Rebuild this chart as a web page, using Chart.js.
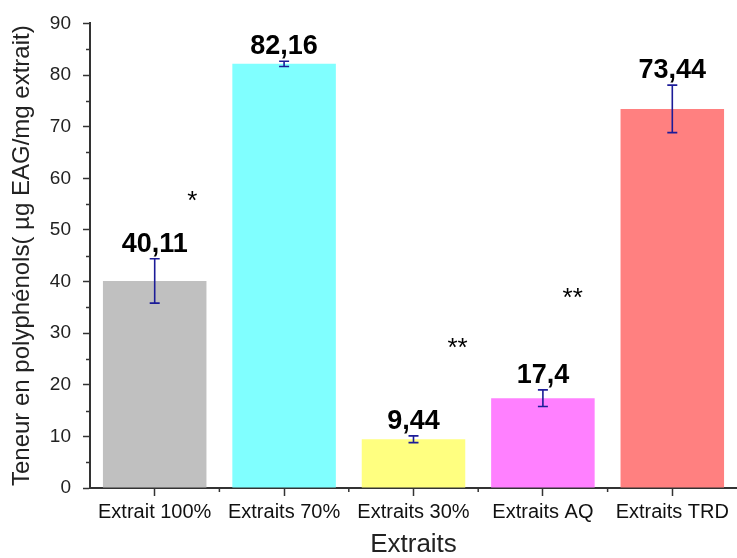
<!DOCTYPE html>
<html>
<head>
<meta charset="utf-8">
<script src="https://cdn.jsdelivr.net/npm/chart.js@4"></script>
<style>
  html, body { margin: 0; padding: 0; background: #fff; }
  #wrap { width: 737px; height: 558px; }
</style>
</head>
<body>
<div id="wrap"><canvas id="chart"></canvas></div>
<script>
// données
const categories = ['Extrait 100%', 'Extraits 70%', 'Extraits 30%', 'Extraits AQ', 'Extraits TRD'];
const values = [40.11, 82.16, 9.44, 17.4, 73.44];
const errors = [4.3, 0.5, 0.65, 1.6, 4.6];
const valueLabels = ['40,11', '82,16', '9,44', '17,4', '73,44'];
const barColors = ['#c0c0c0', '#80ffff', '#ffff80', '#ff80ff', '#ff8080'];
// astérisques (position en unités de catégorie / valeur)
const starTexts = ['*', '**', '**'];
const starX = [0.29, 2.34, 3.23];
const starY = [56.5, 28, 37.6];

const FONT = "'Liberation Sans', Arial, sans-serif";

const extras = {
  id: 'extras',
  afterDatasetsDraw(chart) {
    const ctx = chart.ctx;
    const x = chart.scales.x, y = chart.scales.y;
    const area = chart.chartArea;
    ctx.save();

    // minor ticks on y
    ctx.strokeStyle = '#333';
    ctx.lineWidth = 1.5;
    for (let v = 5; v < 90; v += 10) {
      const py = Math.round(y.getPixelForValue(v)) + 0.5;
      ctx.beginPath();
      ctx.moveTo(area.left - 4, py);
      ctx.lineTo(area.left, py);
      ctx.stroke();
    }
    // small ticks at category boundaries
    for (let i = 1; i < categories.length; i++) {
      const px = (x.getPixelForValue(i - 1) + x.getPixelForValue(i)) / 2;
      ctx.beginPath();
      ctx.moveTo(px, area.bottom);
      ctx.lineTo(px, area.bottom + 4);
      ctx.stroke();
    }

    // error bars
    ctx.strokeStyle = '#1c1c98';
    ctx.lineWidth = 1.6;
    values.forEach((v, i) => {
      const px = x.getPixelForValue(i);
      const top = y.getPixelForValue(v + errors[i]);
      const bot = y.getPixelForValue(v - errors[i]);
      ctx.beginPath();
      ctx.moveTo(px, top); ctx.lineTo(px, bot);
      ctx.moveTo(px - 5, top); ctx.lineTo(px + 5, top);
      ctx.moveTo(px - 5, bot); ctx.lineTo(px + 5, bot);
      ctx.stroke();
    });

    // value labels
    ctx.fillStyle = '#000';
    ctx.font = 'bold 27px ' + FONT;
    ctx.textAlign = 'center';
    ctx.textBaseline = 'alphabetic';
    values.forEach((v, i) => {
      const px = x.getPixelForValue(i);
      const top = y.getPixelForValue(v + errors[i]);
      ctx.fillText(valueLabels[i], px, top - 7);
    });

    // asterisks
    ctx.font = '26px ' + FONT;
    ctx.textBaseline = 'middle';
    starTexts.forEach((t, i) => {
      const px = x.getPixelForValue(0) + starX[i] * (x.getPixelForValue(1) - x.getPixelForValue(0));
      const py = y.getPixelForValue(starY[i]);
      ctx.fillText(t, px, py + 5);
    });
    ctx.restore();
  }
};

new Chart(document.getElementById('chart'), {
  type: 'bar',
  data: {
    labels: categories,
    datasets: [{
      data: values,
      backgroundColor: barColors,
      barPercentage: 0.8,
      categoryPercentage: 1
    }]
  },
  options: {
    responsive: true,
    maintainAspectRatio: false,
    animation: false,
    layout: { padding: { top: 21, right: 0, left: 0, bottom: 0 } },
    plugins: { legend: { display: false }, tooltip: { enabled: false } },
    scales: {
      x: {
        afterFit(s) { s.height = 70; },
        grid: { display: true, drawOnChartArea: false, offset: false, tickLength: 8, color: '#333', tickWidth: 1.5 },
        border: { color: '#333', width: 2 },
        ticks: { color: '#111', font: { family: FONT, size: 20 }, padding: 4, maxRotation: 0, autoSkip: false },
        title: { display: true, text: 'Extraits', color: '#222', font: { family: FONT, size: 26, lineHeight: 1 }, padding: { top: 0, bottom: 0 } }
      },
      y: {
        min: 0, max: 90,
        afterFit(s) { s.width = 90; },
        grid: { display: true, drawOnChartArea: false, tickLength: 7, color: '#333', tickWidth: 1.5 },
        border: { color: '#333', width: 2 },
        ticks: { stepSize: 10, color: '#222', font: { family: FONT, size: 19 }, padding: 12 },
        title: { display: true, text: 'Teneur en polyphénols( µg EAG/mg extrait)', color: '#222', font: { family: FONT, size: 24, lineHeight: 1 }, padding: { top: 10, bottom: 0 } }
      }
    }
  },
  plugins: [extras]
});
</script>
</body>
</html>
